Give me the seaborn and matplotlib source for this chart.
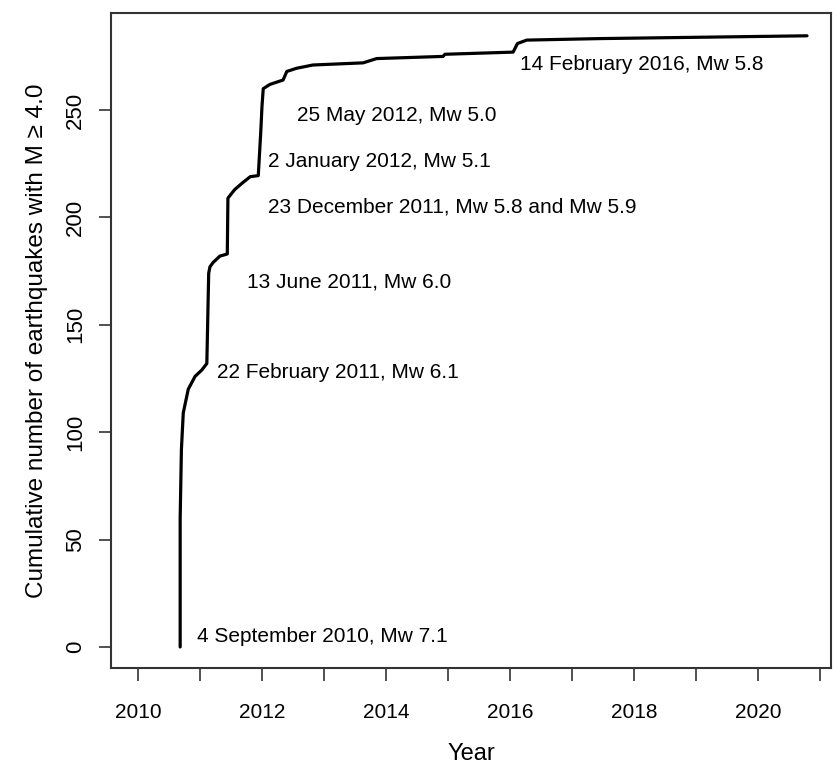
import numpy as np
import pandas as pd
import matplotlib
matplotlib.use('Agg')
import matplotlib.pyplot as plt
import seaborn as sns

# cumulative count of M>=4 events (decimal year, count)
years = [2010.68, 2010.68, 2010.70, 2010.73, 2010.81, 2010.92, 2011.03, 2011.11,
         2011.14, 2011.16, 2011.21, 2011.32, 2011.44, 2011.45, 2011.56, 2011.68,
         2011.81, 2011.94, 2011.98, 2012.00, 2012.02, 2012.13, 2012.34, 2012.40,
         2012.56, 2012.82, 2013.63, 2013.85, 2014.92, 2014.95, 2016.05, 2016.12,
         2016.27, 2017.45, 2020.79]
counts = [0, 60, 92, 109, 120, 126, 129, 132,
          174, 177, 179, 182, 183, 209, 213, 216,
          219, 219.5, 240, 252, 260, 262, 264, 268,
          269.5, 271, 272, 274, 275, 276, 277, 281,
          282.6, 283.3, 284.6]

# annotations: (text, x, y)
labels = ["4 September 2010, Mw 7.1", "22 February 2011, Mw 6.1", "13 June 2011, Mw 6.0",
          "23 December 2011, Mw 5.8 and Mw 5.9", "2 January 2012, Mw 5.1",
          "25 May 2012, Mw 5.0", "14 February 2016, Mw 5.8"]
label_x = [2010.95, 2011.27, 2011.76, 2012.10, 2012.10, 2012.56, 2016.16]
label_y = [4.7, 127.6, 170, 205, 226, 247.7, 271.4]

xticks = list(range(2010, 2022))
xticklabels = [str(y) if y % 2 == 0 else '' for y in xticks]
yticks = [0, 50, 100, 150, 200, 250]

sns.set_style('white')
plt.rcParams['font.family'] = ['Liberation Sans', 'DejaVu Sans']

df = pd.DataFrame({'year': years, 'count': counts})

fig = plt.figure(figsize=(8.33, 7.67), dpi=100)
ax = fig.add_axes([0.1333, 0.1291, 0.8643, 0.8539])
sns.lineplot(data=df, x='year', y='count', ax=ax, color='black', linewidth=2.3,
             sort=False, estimator=None)

for txt, x, y in zip(labels, label_x, label_y):
    ax.text(x, y, txt, fontsize=15, ha='left', va='center', color='black')

ax.set_xlim(2009.565, 2021.177)
ax.set_ylim(-9.78, 295.2)
ax.set_xticks(xticks)
ax.set_xticklabels(xticklabels, fontsize=15)
ax.set_yticks(yticks)
ax.set_yticklabels([str(v) for v in yticks], fontsize=16, rotation=90, va='center')
ax.tick_params(axis='both', bottom=True, left=True, direction='out', length=9,
               width=1.2, color='#333333', labelcolor='black')
ax.tick_params(axis='x', pad=16)
ax.tick_params(axis='y', pad=9)
for sp in ax.spines.values():
    sp.set_visible(True)
    sp.set_color('#333333')
    sp.set_linewidth(1.5)
ax.set_xlabel('Year', fontsize=17, labelpad=15, color='black')
ax.set_ylabel('Cumulative number of earthquakes with M \u2265 4.0', fontsize=17.5,
              labelpad=12, color='black')

fig.savefig('out.png', dpi=100)
